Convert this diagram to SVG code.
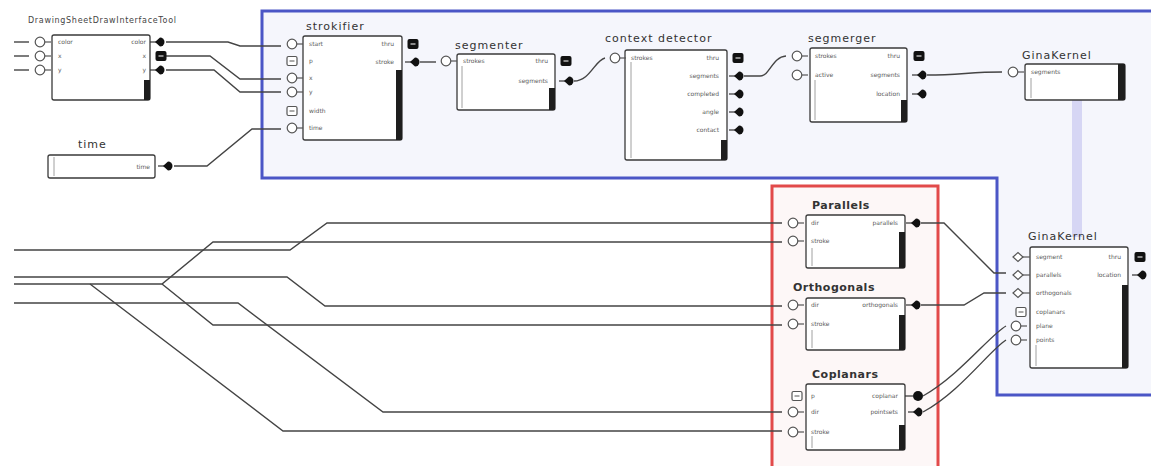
<svg xmlns="http://www.w3.org/2000/svg" xmlns:xlink="http://www.w3.org/1999/xlink" width="1151" height="466" viewBox="0 0 1151 466">
<style>
.box{fill:#fff;stroke:#3a3a3a;stroke-width:1.3}
.inner{stroke:#888;stroke-width:0.8;fill:none}
.bar{fill:#1e1e1e}
.title{font-family:"DejaVu Sans",sans-serif;font-size:11px;fill:#333;letter-spacing:1px}
.btitle{font-family:"DejaVu Sans",sans-serif;font-size:11px;fill:#333;font-weight:bold;letter-spacing:0.5px}
.lbl{font-family:"DejaVu Sans",sans-serif;font-size:6px;fill:#5a5a5a}
.r{text-anchor:end}
.wire{fill:none;stroke:#444;stroke-width:1.4}
.pin{fill:#fff;stroke:#555;stroke-width:1.2}
.out{fill:#111}
</style>
<defs>
<g id="inc"><line x1="4" y1="0" x2="11" y2="0" stroke="#555" stroke-width="1.2"/><circle cx="0" cy="0" r="4.8" class="pin"/></g>
<g id="insq"><rect x="-5" y="-4.5" width="10" height="9" rx="1.5" class="pin"/><line x1="-2.5" y1="0" x2="2.5" y2="0" stroke="#555" stroke-width="1"/></g>
<g id="indi"><line x1="4" y1="0" x2="12" y2="0" stroke="#555" stroke-width="1.2"/><path d="M-5,0 L0,-4.5 L5,0 L0,4.5 Z" class="pin"/></g>
<g id="outd"><line x1="-11" y1="0" x2="-4" y2="0" stroke="#333" stroke-width="1.2"/><path d="M-6,0 L-1,-4.5 A4.5,4.5 0 1 1 -1,4.5 Z" class="out"/></g>
<g id="outsq"><rect x="-5.5" y="-5" width="11" height="10" rx="2" class="out"/><line x1="-2.5" y1="0" x2="2.5" y2="0" stroke="#ddd" stroke-width="1.2"/></g>
</defs>

<!-- containers -->
<g id="blue-container">
<path d="M262,11 H1153 V395 H997 V178 H262 Z" fill="#f5f6fc" stroke="#4b56c6" stroke-width="3"/>
</g>
<g id="red-container">
<rect x="772" y="186" width="166" height="290" fill="#fdf7f7" stroke="#e24a4a" stroke-width="3"/>
</g>
<rect x="1072" y="100" width="10" height="137" fill="#d6d6f4"/>

<g id="connectors">
<path class="wire" d="M14,42 H29"/>
<path class="wire" d="M14,56 H29"/>
<path class="wire" d="M14,70 H29"/>
<path class="wire" d="M166,42 H228 L240,46 H281"/>
<path class="wire" d="M166,56 H210 L240,79 H281"/>
<path class="wire" d="M166,70 H214 L240,92 H281"/>
<path class="wire" d="M174,166 H207 L252,129 H281"/>
<path class="wire" d="M420,62 H436"/>
<path class="wire" d="M574,81 C590,81 595,60 605,58"/>
<path class="wire" d="M744,76 H760 C770,76 772,57 786,56"/>
<path class="wire" d="M927,75 C960,75 970,72 1002,72"/>
<path class="wire" d="M921,223 H944 L994,273 H1006"/>
<path class="wire" d="M921,305 H964 L984,293 H1006"/>
<path class="wire" d="M923,396 C960,375 990,335 1006,326"/>
<path class="wire" d="M923,412 C960,392 990,350 1006,340"/>
<path class="wire" d="M14,250 H290 L327,223 H782"/>
<path class="wire" d="M14,284 H162 L213,242 H782"/>
<path class="wire" d="M162,284 L213,325 H782"/>
<path class="wire" d="M90,284 L283,431 H782"/>
<path class="wire" d="M14,277 H287 L325,306 H782"/>
<path class="wire" d="M14,303 H238 L383,412 H782"/>
</g>

<g id="node-drawingsheet">
<text x="28" y="23" font-family="DejaVu Sans, sans-serif" font-size="8" fill="#444" textLength="148">DrawingSheetDrawInterfaceTool</text>
<rect class="box" x="52" y="35" width="98" height="65" rx="2"/>
<rect class="bar" x="144" y="80" width="6" height="20"/>
<use xlink:href="#inc" x="40" y="42"/><use xlink:href="#inc" x="40" y="56"/><use xlink:href="#inc" x="40" y="70"/>
<text class="lbl" x="58" y="44">color</text><text class="lbl" x="58" y="58">x</text><text class="lbl" x="58" y="72">y</text>
<text class="lbl r" x="146" y="44">color</text><text class="lbl r" x="146" y="58">x</text><text class="lbl r" x="146" y="72">y</text>
<use xlink:href="#outd" x="161" y="42"/><use xlink:href="#outsq" x="161" y="56"/><use xlink:href="#outd" x="161" y="70"/>
</g>

<g id="node-time">
<text class="title" x="78" y="148" font-size="12">time</text>
<rect class="box" x="48" y="155" width="107" height="23" rx="2"/>
<line class="inner" x1="54" y1="157" x2="54" y2="176"/>
<text class="lbl r" x="150" y="169">time</text>
<use xlink:href="#outd" x="169" y="166"/>
</g>

<g id="node-strokifier">
<text class="title" x="306" y="30">strokifier</text>
<rect class="box" x="303" y="36" width="99" height="104" rx="2"/>
<rect class="bar" x="396" y="70" width="6" height="70"/>
<use xlink:href="#inc" x="292" y="44"/>
<use xlink:href="#insq" x="292" y="61"/>
<use xlink:href="#inc" x="292" y="78"/>
<use xlink:href="#inc" x="292" y="92"/>
<use xlink:href="#insq" x="292" y="111"/>
<use xlink:href="#inc" x="292" y="128"/>
<text class="lbl" x="309" y="46">start</text><text class="lbl" x="309" y="63">p</text><text class="lbl" x="309" y="80">x</text><text class="lbl" x="309" y="94">y</text><text class="lbl" x="309" y="113">width</text><text class="lbl" x="309" y="130">time</text>
<text class="lbl r" x="394" y="46">thru</text><text class="lbl r" x="394" y="64">stroke</text>
<use xlink:href="#outsq" x="413" y="44"/><use xlink:href="#outd" x="416" y="62"/>
</g>

<g id="node-segmenter">
<text class="title" x="455" y="49">segmenter</text>
<rect class="box" x="457" y="54" width="98" height="56" rx="2"/>
<line class="inner" x1="462" y1="66" x2="462" y2="108"/>
<rect class="bar" x="549" y="88" width="6" height="22"/>
<use xlink:href="#inc" x="446" y="61"/>
<text class="lbl" x="463" y="63">strokes</text>
<text class="lbl r" x="548" y="63">thru</text><text class="lbl r" x="548" y="83">segments</text>
<use xlink:href="#outsq" x="566" y="61"/><use xlink:href="#outd" x="570" y="81"/>
</g>

<g id="node-context-detector">
<text class="title" x="605" y="42">context detector</text>
<rect class="box" x="625" y="50" width="102" height="110" rx="2"/>
<line class="inner" x1="631" y1="62" x2="631" y2="158"/>
<rect class="bar" x="721" y="140" width="6" height="20"/>
<use xlink:href="#inc" x="615" y="58"/>
<text class="lbl" x="631" y="60">strokes</text>
<text class="lbl r" x="719" y="60">thru</text><text class="lbl r" x="719" y="78">segments</text><text class="lbl r" x="719" y="96">completed</text><text class="lbl r" x="719" y="114">angle</text><text class="lbl r" x="719" y="132">contact</text>
<use xlink:href="#outsq" x="738" y="58"/><use xlink:href="#outd" x="740" y="76"/><use xlink:href="#outd" x="740" y="94"/><use xlink:href="#outd" x="740" y="112"/><use xlink:href="#outd" x="740" y="130"/>
</g>

<g id="node-segmerger">
<text class="title" x="808" y="42">segmerger</text>
<rect class="box" x="810" y="48" width="97" height="74" rx="2"/>
<line class="inner" x1="815" y1="80" x2="815" y2="120"/>
<rect class="bar" x="901" y="100" width="6" height="22"/>
<use xlink:href="#inc" x="797" y="56"/><use xlink:href="#inc" x="797" y="75"/>
<text class="lbl" x="815" y="58">strokes</text><text class="lbl" x="815" y="77">active</text>
<text class="lbl r" x="900" y="58">thru</text><text class="lbl r" x="900" y="77">segments</text><text class="lbl r" x="900" y="96">location</text>
<use xlink:href="#outsq" x="919" y="56"/><use xlink:href="#outd" x="923" y="75"/><use xlink:href="#outd" x="923" y="94"/>
</g>

<g id="node-ginakernel-top">
<text class="title" x="1022" y="59">GinaKernel</text>
<rect class="box" x="1025" y="64" width="100" height="36" rx="2"/>
<line class="inner" x1="1031" y1="78" x2="1031" y2="98"/>
<rect class="bar" x="1118" y="64" width="7" height="36"/>
<use xlink:href="#inc" x="1013" y="72"/>
<text class="lbl" x="1031" y="74">segments</text>
</g>

<g id="node-ginakernel-bottom">
<text class="title" x="1028" y="240">GinaKernel</text>
<rect class="box" x="1030" y="247" width="98" height="121" rx="2"/>
<line class="inner" x1="1036" y1="345" x2="1036" y2="366"/>
<rect class="bar" x="1122" y="285" width="6" height="83"/>
<use xlink:href="#indi" x="1018" y="257"/><use xlink:href="#indi" x="1018" y="275"/><use xlink:href="#indi" x="1018" y="293"/>
<use xlink:href="#insq" x="1021" y="312"/>
<use xlink:href="#inc" x="1016" y="326"/><use xlink:href="#inc" x="1016" y="340"/>
<text class="lbl" x="1036" y="259">segment</text><text class="lbl" x="1036" y="277">parallels</text><text class="lbl" x="1036" y="295">orthogonals</text><text class="lbl" x="1036" y="314">coplanars</text><text class="lbl" x="1036" y="328">plane</text><text class="lbl" x="1036" y="342">points</text>
<text class="lbl r" x="1121" y="259">thru</text><text class="lbl r" x="1121" y="277">location</text>
<use xlink:href="#outsq" x="1140" y="257"/><use xlink:href="#outd" x="1143" y="275"/>
</g>

<g id="node-parallels">
<text class="btitle" x="812" y="209">Parallels</text>
<rect class="box" x="806" y="215" width="99" height="53" rx="2"/>
<line class="inner" x1="812" y1="248" x2="812" y2="266"/>
<rect class="bar" x="899" y="232" width="6" height="36"/>
<use xlink:href="#inc" x="793" y="223"/><use xlink:href="#inc" x="793" y="241"/>
<text class="lbl" x="811" y="225">dir</text><text class="lbl" x="811" y="243">stroke</text>
<text class="lbl r" x="898" y="225">parallels</text>
<use xlink:href="#outd" x="917" y="223"/>
</g>

<g id="node-orthogonals">
<text class="btitle" x="793" y="291">Orthogonals</text>
<rect class="box" x="806" y="298" width="99" height="52" rx="2"/>
<line class="inner" x1="812" y1="330" x2="812" y2="348"/>
<rect class="bar" x="899" y="315" width="6" height="35"/>
<use xlink:href="#inc" x="793" y="305"/><use xlink:href="#inc" x="793" y="324"/>
<text class="lbl" x="811" y="307">dir</text><text class="lbl" x="811" y="326">stroke</text>
<text class="lbl r" x="898" y="307">orthogonals</text>
<use xlink:href="#outd" x="917" y="305"/>
</g>

<g id="node-coplanars">
<text class="btitle" x="812" y="378">Coplanars</text>
<rect class="box" x="806" y="384" width="99" height="66" rx="2"/>
<line class="inner" x1="812" y1="436" x2="812" y2="448"/>
<rect class="bar" x="899" y="425" width="6" height="25"/>
<use xlink:href="#insq" x="797" y="396"/>
<use xlink:href="#inc" x="793" y="412"/><use xlink:href="#inc" x="793" y="432"/>
<text class="lbl" x="811" y="398">p</text><text class="lbl" x="811" y="414">dir</text><text class="lbl" x="811" y="434">stroke</text>
<text class="lbl r" x="898" y="398">coplanar</text><text class="lbl r" x="898" y="414">pointsets</text>
<circle cx="918" cy="396" r="5" class="out"/><line x1="905" y1="396" x2="913" y2="396" stroke="#333" stroke-width="1.2"/>
<use xlink:href="#outd" x="919" y="412"/>
</g>
</svg>
